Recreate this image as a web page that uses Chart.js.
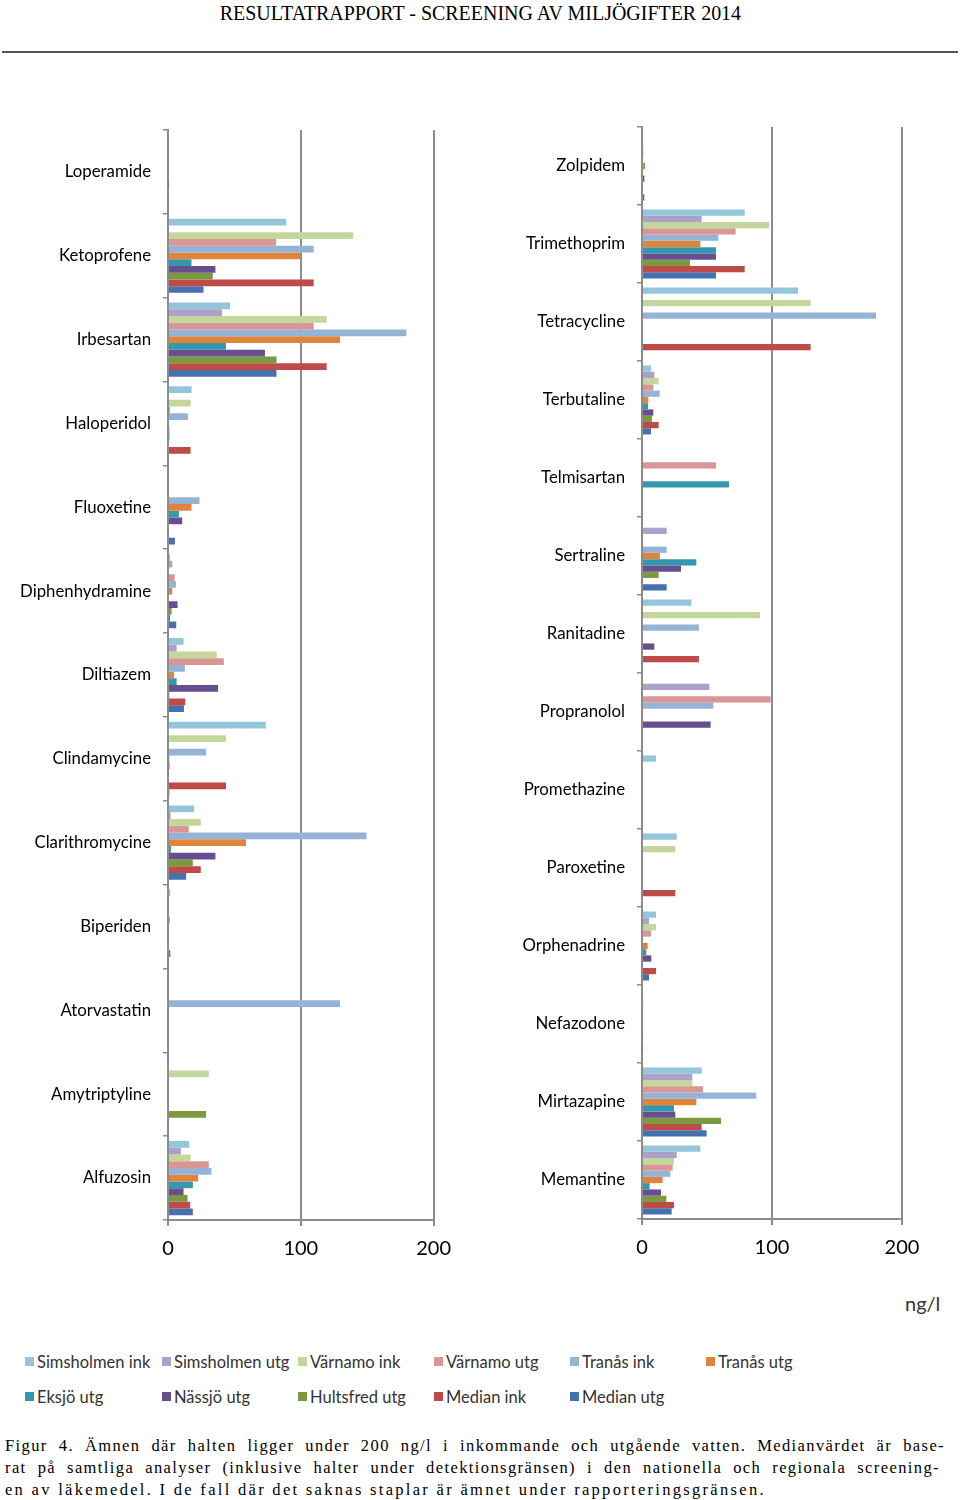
<!DOCTYPE html>
<html>
<head>
<meta charset="utf-8">
<script src="https://cdn.jsdelivr.net/npm/chart.js@4.4.1/dist/chart.umd.min.js"></script>
<style>
  html, body { margin: 0; padding: 0; background: #fff; }
  body { width: 960px; height: 1500px; position: relative; overflow: hidden; font-family: Lato, "Open Sans", sans-serif; }
  #header { position: absolute; top: 1px; left: 0; width: 960px; text-align: center; }
  #header span { display: inline-block; font-family: "Liberation Serif", serif; font-size: 21px; color: #000; transform: scaleX(0.95); white-space: nowrap; }
  #rule { position: absolute; top: 51px; left: 2px; width: 956px; height: 2px; background: #555; }
  #cL { position: absolute; left: 0; top: 100px; }
  #cR { position: absolute; left: 460px; top: 100px; }
  #unit { position: absolute; left: 905px; top: 1291px; font-size: 20px; color: #333; }
  .lg { position: absolute; font-size: 16.5px; color: #333; white-space: nowrap; line-height: 18px; }
  .lg i { position: absolute; left: 0; top: 4px; width: 9px; height: 9px; }
  .lg span { position: absolute; left: 12px; top: 0; }
  .cap { position: absolute; left: 5px; font-family: "Liberation Serif", serif; font-size: 16.5px; color: #000; letter-spacing: 1.4px; white-space: nowrap; line-height: 20px; }
  .cap.j { text-align: justify; text-align-last: justify; white-space: normal; }
</style>
</head>
<body>
<div id="header"><span>RESULTATRAPPORT - SCREENING AV MILJÖGIFTER 2014</span></div>
<div id="rule"></div>
<canvas id="cL" width="462" height="1170"></canvas>
<canvas id="cR" width="500" height="1169"></canvas>
<div id="unit">ng/l</div>
<div id="legend"></div>
<div class="cap j" style="top:1436px; width:940px;">Figur 4. Ämnen där halten ligger under 200 ng/l i inkommande och utgående vatten. Medianvärdet är base-</div>
<div class="cap j" style="top:1458px; width:935px;">rat på samtliga analyser (inklusive halter under detektionsgränsen) i den nationella och regionala screening-</div>
<div class="cap" style="top:1480px; letter-spacing: 2.3px;">en av läkemedel. I de fall där det saknas staplar är ämnet under rapporteringsgränsen.</div>
<script>
// ---- categories ----
const leftCategories = ["Loperamide","Ketoprofene","Irbesartan","Haloperidol","Fluoxetine","Diphenhydramine","Diltiazem","Clindamycine","Clarithromycine","Biperiden","Atorvastatin","Amytriptyline","Alfuzosin"];
const rightCategories = ["Zolpidem","Trimethoprim","Tetracycline","Terbutaline","Telmisartan","Sertraline","Ranitadine","Propranolol","Promethazine","Paroxetine","Orphenadrine","Nefazodone","Mirtazapine","Memantine"];
const seriesNames = ["Simsholmen ink","Simsholmen utg","Värnamo ink","Värnamo utg","Tranås ink","Tranås utg","Eksjö utg","Nässjö utg","Hultsfred utg","Median ink","Median utg"];
const xTicks = [0, 100, 200];

// ---- series values (ng/l), left panel ----
const simsholmenInkL = [null, 89, 46.7, 17.7, null, 1.5, 11.7, 73.7, 19.7, 1.7, null, null, 16];
const simsholmenUtgL = [null, null, 40.7, null, null, 3.2, 6.5, 0.5, 2, null, null, null, 9.7];
const varnamoInkL    = [null, 139.5, 119.5, 17, null, null, 36.7, 43.7, 24.7, null, null, 30.7, 17];
const varnamoUtgL    = [null, 81.5, 109.7, 1.5, null, 5, 42, 0.7, 15.7, null, null, null, 30.7];
const tranasInkL     = [null, 109.7, 179.5, 15, 23.7, 6, 12.7, 28.7, 149.5, 1.5, 129.5, null, 32.7];
const tranasUtgL     = [null, 100, 129.5, null, 17.7, 3.2, 4.5, 1, 58.7, null, null, null, 22.7];
const eksjoUtgL      = [null, 17.7, 43.7, 1, 8.2, null, 6.5, 1.2, 2.2, null, null, null, 18.7];
const nassjoUtgL     = [0.5, 35.7, 73, 1, 10.7, 7.2, 37.7, 0.7, 35.7, null, null, null, 11.7];
const hultsfredUtgL  = [null, 33.7, 81.7, null, null, 2.7, 1, 0.7, 18.7, null, null, 28.7, 14.7];
const medianInkL     = [null, 109.7, 119.5, 17, null, 1.5, 13, 43.7, 24.7, 1.7, null, null, 16.7];
const medianUtgL     = [null, 26.7, 81.7, null, 5.2, 6.2, 12, 1, 13.7, null, null, null, 18.7];

// ---- series values (ng/l), right panel ----
const simsholmenInkR = [null, 79, 120, 6.9, null, null, 38, null, 10.8, 26.7, 10.8, null, 45.9, 44.9];
const simsholmenUtgR = [null, 45.9, null, 9.5, null, 19, null, 51.8, null, null, 5.4, null, 38.7, 26.7];
const varnamoInkR    = [1, 97.7, 129.7, 12.8, null, null, 90.8, null, null, 25.6, 10.8, 1, 38.7, 24.6];
const varnamoUtgR    = [1, 72, null, 8.7, 56.9, null, null, 99, null, null, 6.9, null, 46.9, 23.6];
const tranasInkR     = [null, 58.7, 180, 13.6, null, 19, 43.8, 54.9, null, null, null, null, 87.9, 21.8];
const tranasUtgR     = [2.3, 44.9, null, 4.9, null, 13.8, null, null, null, null, 4.4, null, 41.8, 15.9];
const eksjoUtgR      = [null, 56.9, null, 4.6, 66.9, 41.8, null, null, null, null, 3.3, null, 24.6, 5.9];
const nassjoUtgR     = [1.8, 56.9, null, 8.7, null, 30, 9.5, 52.8, null, null, 7.2, 0.5, 25.6, 14.6];
const hultsfredUtgR  = [null, 36.9, null, 7.7, null, 12.8, null, null, null, null, null, null, 60.8, 18.7];
const medianInkR     = [0.8, 79, 129.7, 12.8, null, null, 43.8, null, null, 25.6, 10.8, 0.5, 45.9, 24.6];
const medianUtgR     = [1.8, 56.9, null, 6.9, null, 19, null, null, null, null, 5.4, null, 49.7, 22.8];

// ---- styles ----
const seriesColors = ["#93C6DB","#ADA1C9","#C3D69B","#D99694","#95B3D7","#E0843C","#3596B0","#674E8F","#7A9A3D","#BE4B48","#4472B0"];
const gridColor = "#8c8c8c";

const leftSeries = [simsholmenInkL, simsholmenUtgL, varnamoInkL, varnamoUtgL, tranasInkL, tranasUtgL, eksjoUtgL, nassjoUtgL, hultsfredUtgL, medianInkL, medianUtgL];
const rightSeries = [simsholmenInkR, simsholmenUtgR, varnamoInkR, varnamoUtgR, tranasInkR, tranasUtgR, eksjoUtgR, nassjoUtgR, hultsfredUtgR, medianInkR, medianUtgR];

function makeChart(id, labels, series, yWidth, padTop, padRight) {
  const datasets = series.map((d, i) => ({
    label: seriesNames[i],
    data: d,
    backgroundColor: seriesColors[i],
    borderWidth: 0,
    categoryPercentage: 0.885,
    barPercentage: 1.0
  }));
  return new Chart(document.getElementById(id), {
    type: 'bar',
    data: { labels: labels, datasets: datasets },
    options: {
      indexAxis: 'y',
      responsive: false,
      animation: false,
      devicePixelRatio: 1,
      layout: { padding: { top: padTop, right: padRight, left: 0, bottom: 0 } },
      plugins: { legend: { display: false }, tooltip: { enabled: false } },
      scales: {
        x: {
          min: 0, max: 200,
          afterBuildTicks: (s) => { s.ticks = xTicks.map(v => ({ value: v })); },
          afterFit: (s) => { s.height = 50; },
          grid: { color: gridColor, lineWidth: 2, tickLength: 6, drawTicks: true },
          border: { display: true, color: gridColor, width: 2 },
          ticks: { color: '#000', font: { family: 'Lato', size: 20 }, padding: 11, maxRotation: 0 }
        },
        y: {
          afterFit: (s) => { s.width = yWidth; },
          grid: { drawOnChartArea: false, drawTicks: true, tickLength: 5, color: gridColor, lineWidth: 1.5, offset: true },
          border: { display: true, color: gridColor, width: 2 },
          ticks: { color: '#000', font: { family: 'Lato', size: 16.8 }, padding: 12, autoSkip: false }
        }
      }
    }
  });
}

makeChart('cL', leftCategories, leftSeries, 168, 30, 22);
makeChart('cR', rightCategories, rightSeries, 182, 27, 58);

// legend
const legend = document.getElementById('legend');
const colX = [25, 162, 298, 434, 570, 706];
seriesNames.forEach((name, i) => {
  const row = Math.floor(i / 6), col = i % 6;
  const el = document.createElement('div');
  el.className = 'lg';
  el.style.left = colX[col] + 'px';
  el.style.top = (1353 + row * 35) + 'px';
  el.innerHTML = '<i style="background:' + seriesColors[i] + '"></i><span>' + name + '</span>';
  legend.appendChild(el);
});
</script>
</body>
</html>
